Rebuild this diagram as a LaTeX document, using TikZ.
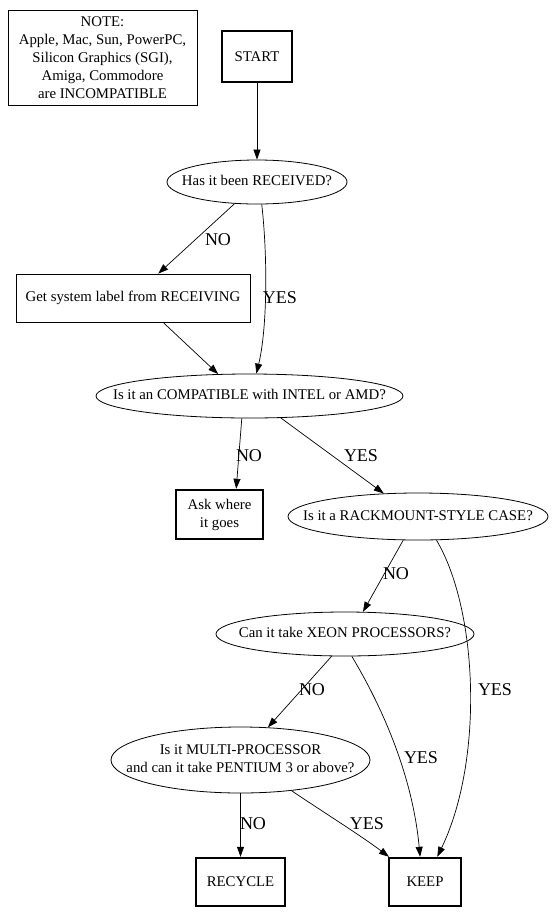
\documentclass[tikz,border=0pt]{standalone}
\usepackage{fontspec}
\setmainfont{Liberation Serif}
\usetikzlibrary{shapes.geometric,arrows.meta}
\newcommand{\zwbox}[1]{\makebox[0pt]{\begin{tabular}{@{}c@{}}#1\end{tabular}}}
\begin{document}
\begin{tikzpicture}[x=1pt,y=-1pt,
  every node/.style={font=\fontsize{14.8}{18}\selectfont},
  box/.style={draw,line width=0.8pt,rectangle,inner sep=0pt,align=center},
  tbox/.style={draw,line width=2.4pt,rectangle,inner sep=0pt,align=center},
  oval/.style={draw,line width=0.8pt,ellipse,inner sep=0pt,align=center},
  edge/.style={line width=0.7pt,-{Triangle[length=10pt,width=7pt]}},
  lbl/.style={font=\fontsize{18}{20}\selectfont,inner sep=0pt}]
\useasboundingbox (0,0) rectangle (558,914);
\node[box,minimum width=189pt,minimum height=95pt] (note) at (102.5,57.5)
  {NOTE:\\Apple, Mac, Sun, PowerPC,\\Silicon Graphics (SGI),\\Amiga, Commodore\\are INCOMPATIBLE};
\node[tbox,minimum width=70pt,minimum height=51pt] (start) at (257,56.5) {START};
\node[oval,minimum width=180pt,minimum height=44pt] (rec) at (257,182) {\zwbox{Has it been RECEIVED?}};
\node[box,minimum width=234pt,minimum height=48pt] (get) at (133,298) {Get system label from RECEIVING};
\node[oval,minimum width=307pt,minimum height=44pt] (comp) at (249.5,396) {\zwbox{Is it an COMPATIBLE with INTEL or AMD?}};
\node[tbox,minimum width=87pt,minimum height=49pt] (ask) at (219.5,514.5) {Ask where\\it goes};
\node[oval,minimum width=260pt,minimum height=47pt] (rack) at (418,516.5) {\zwbox{Is it a RACKMOUNT-STYLE CASE?}};
\node[oval,minimum width=258pt,minimum height=44pt] (xeon) at (345,634) {\zwbox{Can it take XEON PROCESSORS?}};
\node[oval,minimum width=259pt,minimum height=66pt] (multi) at (240.5,760) {\zwbox{Is it MULTI-PROCESSOR\\and can it take PENTIUM 3 or above?}};
\node[tbox,minimum width=89pt,minimum height=48pt] (recy) at (240.5,882) {RECYCLE};
\node[tbox,minimum width=72pt,minimum height=48pt] (keep) at (425,882) {KEEP};

\draw[edge] (start) -- (rec);
\draw[edge] (rec.-136) -- (get.44);
\draw[edge] (rec.-78) .. controls (268,260) and (267,330) .. (comp.73);
\draw[edge] (get.-39) -- (comp.145);
\draw[edge] (comp.-109) -- (ask.57);
\draw[edge] (comp.-35) -- (rack.146);
\draw[edge] (rack.-122) -- (xeon.51);
\draw[edge] (rack.-52) .. controls (478,610) and (484,760) .. (keep.64);
\draw[edge] (xeon.-121) -- (multi.50);
\draw[edge] (xeon.-73) .. controls (378,700) and (412,770) .. (keep.101);
\draw[edge] (multi) -- (recy);
\draw[edge] (multi.-31) .. controls (320,810) and (360,835) .. (keep.145);

\node[lbl] (l1) at (218,240) {NO};
\node[lbl] (l2) at (280,298) {YES};
\node[lbl] (l3) at (249,456) {NO};
\node[lbl] (l4) at (361,456) {YES};
\node[lbl] (l5) at (396,574) {NO};
\node[lbl] (l6) at (495,690) {YES};
\node[lbl] (l7) at (312,690) {NO};
\node[lbl] (l8) at (421,758) {YES};
\node[lbl] (l9) at (253,824) {NO};
\node[lbl] (l10) at (367,824) {YES};
\end{tikzpicture}
\end{document}
